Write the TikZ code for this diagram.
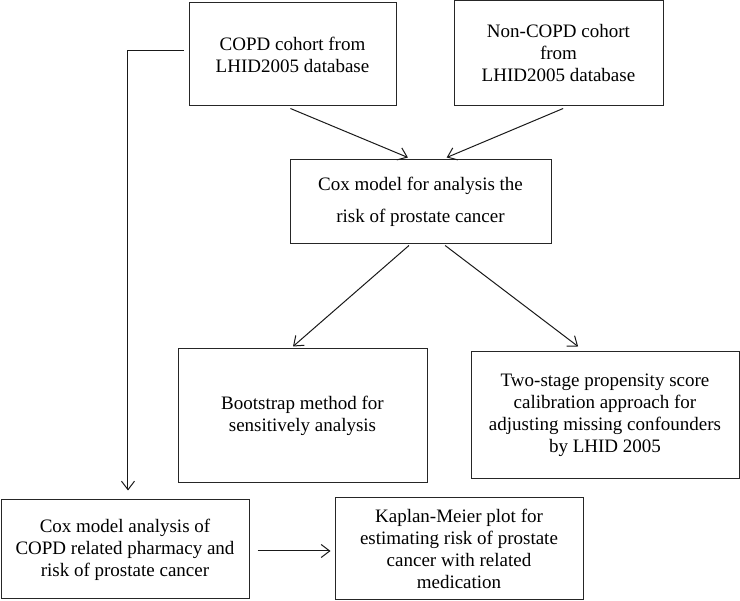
\documentclass[tikz,border=0pt]{standalone}
\usepackage{fontspec}
\setmainfont{Liberation Serif}
\usetikzlibrary{arrows.meta,calc}
\begin{document}
\begin{tikzpicture}[x=1pt,y=-1pt,
  box/.style={draw=black!85,line width=1pt,rectangle,align=center,inner sep=0pt,
    font=\fontsize{19}{22}\selectfont,text=black},
  arr/.style={draw=black!90,line width=1pt,-{Straight Barb[length=8.5pt,width=13pt]}}]
\useasboundingbox (0,0) rectangle (740,601);
\node[box,minimum width=207pt,minimum height=103pt] (A) at (292.5,54.5)
  {COPD cohort from\\LHID2005 database};
\node[box,minimum width=209pt,minimum height=105pt] (B) at (558.5,53.5)
  {Non-COPD cohort\\from\\LHID2005 database};
\node[box,minimum width=261pt,minimum height=84pt,font=\fontsize{19}{32}\selectfont] (C) at (420.5,202)
  {Cox model for analysis the\\risk of prostate cancer};
\node[box,minimum width=249pt,minimum height=134pt] (D) at (302.5,416)
  {Bootstrap method for\\sensitively analysis};
\node[box,minimum width=268pt,minimum height=127pt] (E) at (605,415.5)
  {Two-stage propensity score\\calibration approach for\\adjusting missing confounders\\by LHID 2005};
\node[box,minimum width=248pt,minimum height=99pt] (F) at (125,549.5)
  {Cox model analysis of\\COPD related pharmacy and\\risk of prostate cancer};
\node[box,minimum width=248pt,minimum height=102pt] (G) at (459,549)
  {Kaplan-Meier plot for\\estimating risk of prostate\\cancer with related\\medication};
\draw[arr] ($(A.south west)!0.49!(A.south east)+(0,2)$) -- ($(C.north west)!0.452!(C.north east)+(0,-2)$);
\draw[arr] ($(B.south west)!0.522!(B.south east)+(0,2)$) -- ($(C.north west)!0.60!(C.north east)+(0,-2)$);
\draw[arr] ($(C.south west)!0.456!(C.south east)+(0,1)$) -- ($(D.north west)!0.462!(D.north east)+(0,-2)$);
\draw[arr] ($(C.south west)!0.594!(C.south east)+(0,1)$) -- ($(E.north west)!0.40!(E.north east)+(0,-5)$);
\draw[arr] ($(A.west)+(-5,-3.5)$) -| ($(F.north west)!0.512!(F.north east)+(0,-9)$);
\coordinate (fg) at ($(F.east)+(8,1.5)$);
\draw[arr] (fg) -- ([xshift=-4pt]fg -| G.west);
\end{tikzpicture}
\end{document}
